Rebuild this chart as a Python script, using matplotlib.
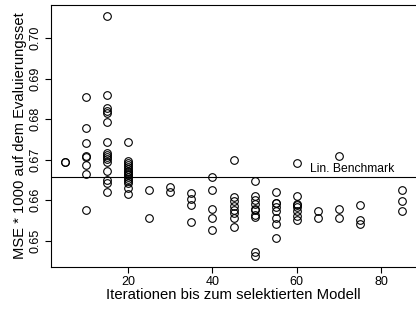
import numpy as np
import matplotlib
matplotlib.use("Agg")
import matplotlib.pyplot as plt

plt.rcParams['font.family'] = ['Liberation Sans', 'DejaVu Sans']

# Iterationen bis zum selektierten Modell und MSE*1000 je Lauf
iterationen = [5, 10, 15, 20, 25, 30, 35, 40, 45, 50, 55, 60, 65, 70, 75, 85]
mse_werte = [
    [0.6695, 0.6694],
    [0.6855, 0.6777, 0.6741, 0.6709, 0.6707, 0.6686, 0.6665, 0.6576],
    [0.7056, 0.6860, 0.6827, 0.6821, 0.6815, 0.6794, 0.6744, 0.6717,
     0.6712, 0.6707, 0.6702, 0.6694, 0.6672, 0.6650, 0.6642, 0.6620],
    [0.6743, 0.6696, 0.6691, 0.6686, 0.6681, 0.6677, 0.6673, 0.6669,
     0.6665, 0.6662, 0.6658, 0.6653, 0.6648, 0.6643, 0.6629, 0.6614],
    [0.6626, 0.6556],
    [0.6633, 0.6619],
    [0.6618, 0.6602, 0.6589, 0.6545],
    [0.6657, 0.6626, 0.6578, 0.6557, 0.6527],
    [0.6700, 0.6607, 0.6597, 0.6585, 0.6575, 0.6568, 0.6556, 0.6534],
    [0.6646, 0.6609, 0.6601, 0.6590, 0.6579, 0.6576, 0.6562, 0.6559,
     0.6471, 0.6461],
    [0.6619, 0.6594, 0.6592, 0.6582, 0.6572, 0.6556, 0.6541, 0.6507],
    [0.6691, 0.6609, 0.6590, 0.6587, 0.6582, 0.6572, 0.6561, 0.6550],
    [0.6574, 0.6556],
    [0.6708, 0.6578, 0.6556],
    [0.6589, 0.6550, 0.6542],
    [0.6624, 0.6597, 0.6572],
]
benchmark = 0.6657
benchmark_text = "Lin. Benchmark"

fig = plt.figure(figsize=(4.16, 3.10), dpi=100)
ax = fig.add_axes([0.1226, 0.1403, 0.8774, 0.8436])

for it, werte in zip(iterationen, mse_werte):
    ax.plot([it] * len(werte), werte, 'o', mfc='none', mec='black',
            ms=5.5, mew=0.8, ls='none')

ax.axhline(benchmark, color='black', lw=0.8)
ax.text(63.0, benchmark + 0.0004, benchmark_text, ha='left', va='bottom',
        fontsize=8.7)

ax.set_xlim(1.8, 88.2)
ax.set_ylim(0.6436, 0.7082)
ax.set_xticks([20, 40, 60, 80])
ax.set_yticks([0.65, 0.66, 0.67, 0.68, 0.69, 0.70])
ax.set_yticklabels(["0.65", "0.66", "0.67", "0.68", "0.69", "0.70"],
                   rotation=90, va='center')
ax.tick_params(direction='out', length=4, width=0.8, labelsize=9, pad=3)
for s in ['left', 'top', 'bottom']:
    ax.spines[s].set_linewidth(0.8)
ax.spines['right'].set_visible(False)

ax.set_xlabel("Iterationen bis zum selektierten Modell", fontsize=10.7, labelpad=0)
ax.set_ylabel("MSE * 1000 auf dem Evaluierungsset", fontsize=10.6, labelpad=2)

fig.savefig("out.png", dpi=100)
